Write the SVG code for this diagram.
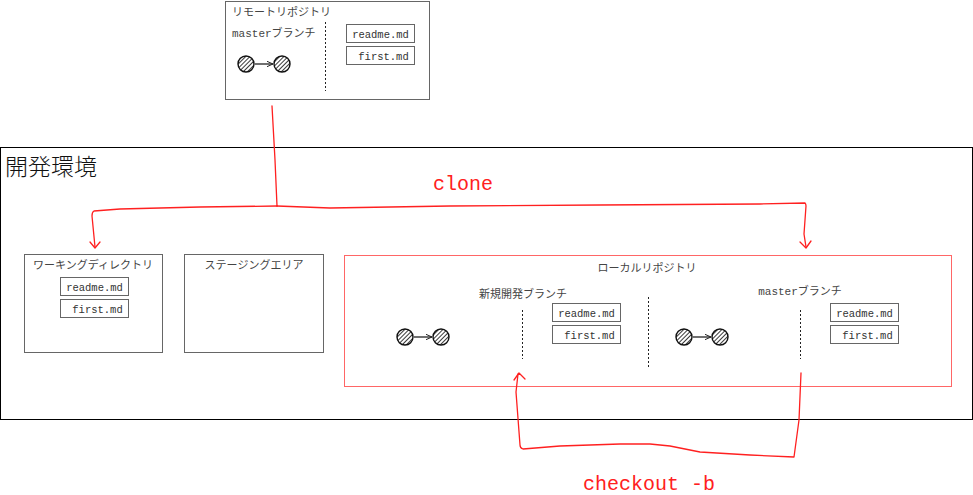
<svg xmlns="http://www.w3.org/2000/svg" width="973" height="495" viewBox="0 0 973 495">
<defs>
<pattern id="hatch" patternUnits="userSpaceOnUse" width="3" height="3" patternTransform="rotate(45)">
<rect width="3" height="3" fill="#fff"/>
<line x1="0" y1="0" x2="0" y2="3" stroke="#222" stroke-width="1.8"/>
</pattern>
<marker id="ah" viewBox="0 0 10 10" refX="9" refY="5" markerWidth="7" markerHeight="7" orient="auto" markerUnits="userSpaceOnUse">
<path d="M0,1 L9,5 L0,9" fill="none" stroke="#222" stroke-width="1.4"/>
</marker>
<g id="commits">
<circle cx="0" cy="0" r="8" fill="url(#hatch)" stroke="#111" stroke-width="1.4"/>
<line x1="9" y1="0" x2="27" y2="0" stroke="#222" stroke-width="1.3" marker-end="url(#ah)"/>
<circle cx="36" cy="0" r="8" fill="url(#hatch)" stroke="#111" stroke-width="1.4"/>
</g>
<g id="files">
<rect x="0" y="0" width="68" height="18" class="file"/>
<text x="34" y="13" class="fname">readme.md</text>
<rect x="0" y="22" width="68" height="18" class="file"/>
<text x="37" y="35" class="fname">first.md</text>
</g>
</defs>
<style>
.box{fill:#fff;stroke:#666;stroke-width:1}
.file{fill:#fff;stroke:#666;stroke-width:1}
.fname{font-family:"Liberation Mono","DejaVu Sans Mono",monospace;font-size:10.5px;fill:#333;text-anchor:middle}
.lbl{font-family:"Liberation Mono","Noto Sans CJK JP",monospace;font-size:11px;fill:#444}
.mid{text-anchor:middle}
.dot{stroke:#222;stroke-width:1;stroke-dasharray:2,2}
.red{fill:none;stroke:#ff2020;stroke-width:1.3;stroke-linejoin:round;stroke-linecap:round}
.redtxt{font-family:"Liberation Mono","DejaVu Sans Mono",monospace;font-size:20px;fill:#ff2020}
</style>
<rect width="973" height="495" fill="#fff"/>

<g id="dev-env">
<rect x="0.5" y="147.5" width="972" height="272" fill="#fff" stroke="#000" stroke-width="1"/>
<text x="5" y="175" font-family="'Noto Sans CJK JP',sans-serif" font-size="23" font-weight="300" fill="#111">開発環境</text>
</g>

<g id="remote-repo">
<rect x="225.5" y="1.5" width="204" height="98" class="box"/>
<text x="232" y="16" class="lbl">リモートリポジトリ</text>
<text x="232" y="37" class="lbl">masterブランチ</text>
<line x1="325.5" y1="22" x2="325.5" y2="91" class="dot"/>
<use href="#files" x="346.5" y="24.5"/>
<use href="#commits" x="246" y="64"/>
</g>

<g id="working-dir">
<rect x="24.5" y="254.5" width="138" height="98" class="box"/>
<text x="93" y="269" class="lbl mid">ワーキングディレクトリ</text>
<use href="#files" x="60.5" y="277.5"/>
</g>

<g id="staging">
<rect x="184.5" y="254.5" width="139" height="98" class="box"/>
<text x="254" y="269" class="lbl mid">ステージングエリア</text>
</g>

<g id="local-repo">
<rect x="344.5" y="255.5" width="607" height="131" fill="#fff" stroke="#ff6666" stroke-width="1"/>
<text x="647" y="272" class="lbl mid">ローカルリポジトリ</text>
<line x1="648.5" y1="297" x2="648.5" y2="367" class="dot"/>
</g>

<g id="new-branch">
<text x="523" y="298" class="lbl mid">新規開発ブランチ</text>
<line x1="522.5" y1="310" x2="522.5" y2="359" class="dot"/>
<use href="#files" x="552.5" y="303.5"/>
<use href="#commits" x="405" y="337"/>
</g>

<g id="master-branch">
<text x="800" y="295" class="lbl mid">masterブランチ</text>
<line x1="800.5" y1="310" x2="800.5" y2="359" class="dot"/>
<use href="#files" x="830.5" y="303.5"/>
<use href="#commits" x="684" y="337"/>
</g>

<g id="connectors">
<path class="red" d="M272,106 L275,160 L277,206"/>
<path class="red" d="M277,206 L200,207 L120,209 L94,211 Q92,212 92,216 L95,247"/>
<path class="red" d="M90,242 L95,248 L100,242"/>
<path class="red" d="M277,206 L330,208 L450,206 L600,205 L760,204 L805,203 Q806,204 806,206 L804,234 L806,247"/>
<path class="red" d="M800,242 L806,248 L811,241"/>
<path class="red" d="M801,373 L799,420 L794,457 L750,455 L700,452 L670,446 L650,444 L620,444 L560,446 L523,449 Q520,448 520,445 L516,392 L518,374"/>
<path class="red" d="M514,380 L519,373 L525,379"/>
<text x="433" y="190" class="redtxt">clone</text>
<text x="583" y="490" class="redtxt">checkout -b</text>
</g>
</svg>
